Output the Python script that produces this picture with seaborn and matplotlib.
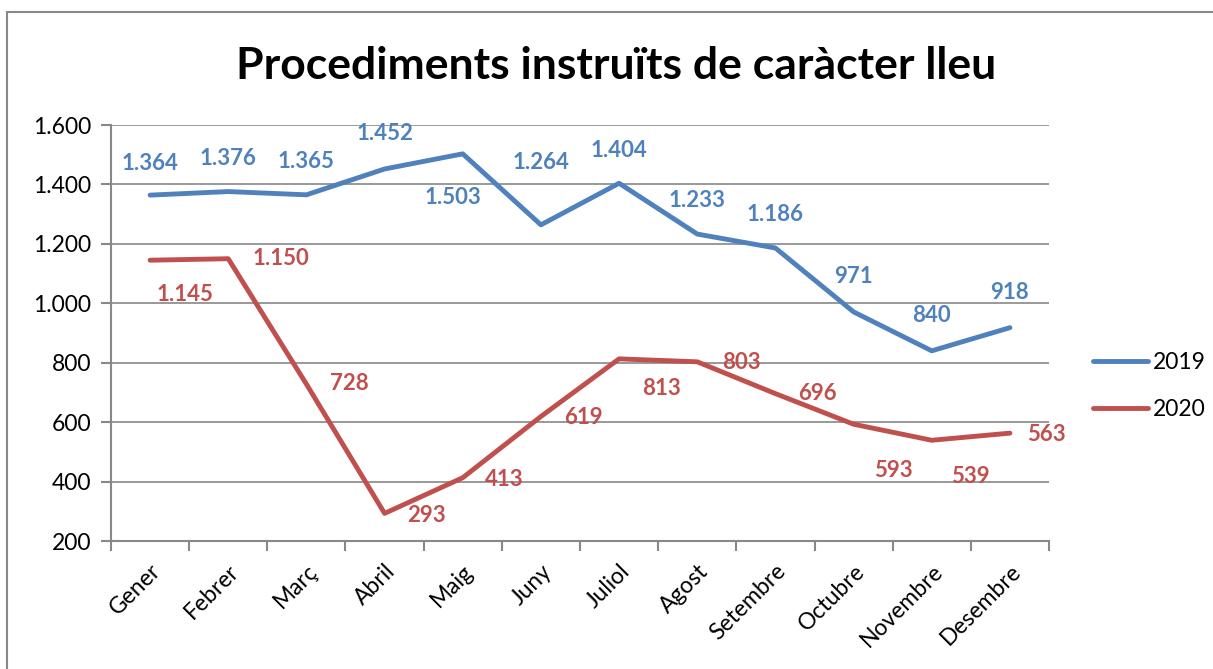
import numpy as np
import pandas as pd
import seaborn as sb
from matplotlib import pyplot as plt
from matplotlib.patches import Rectangle

# data
mesos = ['Gener', 'Febrer', 'Març', 'Abril', 'Maig', 'Juny', 'Juliol',
         'Agost', 'Setembre', 'Octubre', 'Novembre', 'Desembre']
valors_2019 = [1364, 1376, 1365, 1452, 1503, 1264, 1404, 1233, 1186, 971, 840, 918]
valors_2020 = [1145, 1150, 728, 293, 413, 619, 813, 803, 696, 593, 539, 563]
anys = ['2019', '2020']

# label offsets in pixels (dx, dy), Excel-like placement
off_2019 = [(0, 32), (0, 33), (0, 33), (0, 35), (-10, -44), (0, 62), (0, 33),
            (0, 34), (0, 34), (0, 35), (0, 35), (0, 35)]
off_2020 = [(35, -34), (53, 0), (43, 1), (42, -2), (42, -2), (43, -1), (42, -30),
            (44, -1), (42, 0), (40, -46), (39, -36), (36, -1)]

df = pd.DataFrame({'mes': mesos * 2,
                   'valor': valors_2019 + valors_2020,
                   'any': [anys[0]] * 12 + [anys[1]] * 12})

sb.set_style('white')
plt.rcParams['font.family'] = ['Lato', 'DejaVu Sans']
plt.rcParams['text.color'] = 'black'
plt.rcParams['xtick.color'] = 'black'
plt.rcParams['ytick.color'] = 'black'
colors = {'2019': '#4F81BD', '2020': '#C0504D'}
gris = '#888888'

fig = plt.figure(figsize=(12.13, 6.69), dpi=100)
ax = fig.add_axes([111 / 1213, 1 - 541 / 669, (1049 - 111) / 1213, (541 - 125) / 669])

sb.lineplot(data=df, x='mes', y='valor', hue='any', palette=colors, linewidth=3.5,
            ax=ax, legend=False, sort=False)

for vals, offs, a in [(valors_2019, off_2019, '2019'), (valors_2020, off_2020, '2020')]:
    for i, (v, (dx, dy)) in enumerate(zip(vals, offs)):
        txt = f'{v:,}'.replace(',', '.')
        ax.annotate(txt, (i, v), xytext=(dx * 0.72, dy * 0.72), textcoords='offset points',
                    ha='center', va='center', color=colors[a], fontsize=16, fontweight='bold')

ax.set_xlim(-0.5, 11.5)
ax.set_ylim(200, 1600)
ax.set_yticks(range(200, 1601, 200))
ax.set_yticklabels([f'{t:,}'.replace(',', '.') for t in range(200, 1601, 200)], fontsize=16.5)
ax.set_xticks(range(12))
ax.set_xticklabels(mesos, rotation=45, ha='right', rotation_mode='anchor', fontsize=16.5)
ax.set_xticks(np.arange(-0.5, 12, 1), minor=True)
ax.tick_params(axis='x', which='major', length=0, pad=14)
ax.tick_params(axis='x', which='minor', length=7, color=gris, width=1.5, direction='out', bottom=True)
ax.tick_params(axis='y', length=7, color=gris, width=1.5, direction='out', left=True, pad=7)
ax.set_xlabel('')
ax.set_ylabel('')
ax.grid(axis='y', color=gris, linewidth=1.2)
ax.set_axisbelow(True)
for s in ['top', 'right']:
    ax.spines[s].set_visible(False)
for s in ['left', 'bottom']:
    ax.spines[s].set_color(gris)
    ax.spines[s].set_linewidth(1.5)

# legend
handles = [plt.Line2D([], [], color=colors[a], linewidth=3.5) for a in anys]
fig.legend(handles, anys, loc='center left', bbox_to_anchor=(1072 / 1213, 1 - 386 / 669),
           frameon=False, fontsize=16.5, handlelength=2.4, handletextpad=0.25, labelspacing=1.1)

fig.text(0.508, 1 - 66 / 669, 'Procediments instruïts de caràcter lleu', ha='center', va='center',
         fontsize=32, fontweight='bold')

# outer frame
fig.patches.append(Rectangle((7 / 1213, -0.1), 1.2, 1.1 - 12 / 669, transform=fig.transFigure,
                             fill=False, edgecolor=gris, linewidth=1.5))

fig.savefig('out.png', dpi=100)
